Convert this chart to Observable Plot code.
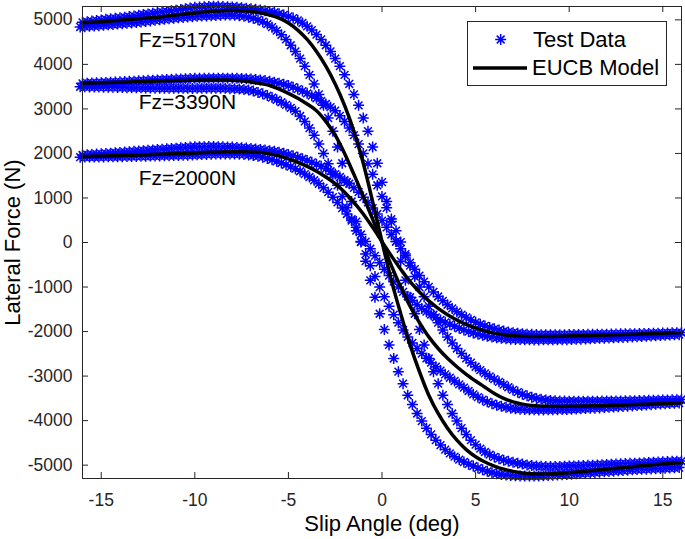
<!DOCTYPE html>
<html><head><meta charset="utf-8">
<script src="https://cdn.jsdelivr.net/npm/d3@7"></script>
<script src="https://cdn.jsdelivr.net/npm/@observablehq/plot@0.6"></script>
<style>
body{margin:0;background:#fff;}
#chart{width:685px;height:539px;}
</style></head><body><div id="chart"></div>
<script>
// ---- data ----
// slip-angle sweep positions (up sweep and down sweep)
const slipAngleUp = [-16,-15.75,-15.5,-15.25,-15,-14.75,-14.5,-14.25,-14,-13.75,-13.5,-13.25,-13,-12.75,-12.5,-12.25,-12,-11.75,-11.5,-11.25,-11,-10.75,-10.5,-10.25,-10,-9.75,-9.5,-9.25,-9,-8.75,-8.5,-8.25,-8,-7.75,-7.5,-7.25,-7,-6.75,-6.5,-6.25,-6,-5.75,-5.5,-5.25,-5,-4.75,-4.5,-4.25,-4,-3.75,-3.5,-3.25,-3,-2.75,-2.5,-2.25,-2,-1.75,-1.5,-1.25,-1,-0.75,-0.5,-0.25,0,0.25,0.5,0.75,1,1.25,1.5,1.75,2,2.25,2.5,2.75,3,3.25,3.5,3.75,4,4.25,4.5,4.75,5,5.25,5.5,5.75,6,6.25,6.5,6.75,7,7.25,7.5,7.75,8,8.25,8.5,8.75,9,9.25,9.5,9.75,10,10.25,10.5,10.75,11,11.25,11.5,11.75,12,12.25,12.5,12.75,13,13.25,13.5,13.75,14,14.25,14.5,14.75,15,15.25,15.5,15.75,16];
const slipAngleDown = [-16.125,-15.875,-15.625,-15.375,-15.125,-14.875,-14.625,-14.375,-14.125,-13.875,-13.625,-13.375,-13.125,-12.875,-12.625,-12.375,-12.125,-11.875,-11.625,-11.375,-11.125,-10.875,-10.625,-10.375,-10.125,-9.875,-9.625,-9.375,-9.125,-8.875,-8.625,-8.375,-8.125,-7.875,-7.625,-7.375,-7.125,-6.875,-6.625,-6.375,-6.125,-5.875,-5.625,-5.375,-5.125,-4.875,-4.625,-4.375,-4.125,-3.875,-3.625,-3.375,-3.125,-2.875,-2.625,-2.375,-2.125,-1.875,-1.625,-1.375,-1.125,-0.875,-0.625,-0.375,-0.125,0.125,0.375,0.625,0.875,1.125,1.375,1.625,1.875,2.125,2.375,2.625,2.875,3.125,3.375,3.625,3.875,4.125,4.375,4.625,4.875,5.125,5.375,5.625,5.875,6.125,6.375,6.625,6.875,7.125,7.375,7.625,7.875,8.125,8.375,8.625,8.875,9.125,9.375,9.625,9.875,10.125,10.375,10.625,10.875,11.125,11.375,11.625,11.875,12.125,12.375,12.625,12.875,13.125,13.375,13.625,13.875,14.125,14.375,14.625,14.875,15.125,15.375,15.625,15.875];

const test5170Up = [4945,4960,4973,4987,4999,5013,5024,5035,5047,5061,5074,5088,5104,5120,5134,5149,5163,5176,5189,5202,5218,5235,5251,5267,5281,5287,5293,5300,5305,5303,5299,5294,5289,5283,5273,5262,5248,5237,5223,5207,5186,5165,5137,5110,5078,5040,4990,4930,4855,4770,4670,4560,4430,4290,4130,3960,3765,3560,3325,3080,2795,2500,2145,1780,1355,920,470,20,-420,-850,-1230,-1600,-1955,-2300,-2605,-2900,-3170,-3430,-3640,-3840,-4010,-4170,-4310,-4440,-4540,-4630,-4705,-4765,-4815,-4855,-4888,-4915,-4937,-4960,-4977,-4995,-5010,-5020,-5027,-5032,-5032,-5032,-5028,-5025,-5020,-5017,-5013,-5010,-5005,-5000,-4995,-4990,-4985,-4980,-4975,-4970,-4965,-4960,-4955,-4950,-4945,-4940,-4935,-4930,-4925,-4920,-4915,-4912,-4908];
const test5170Down = [4840,4847,4855,4862,4870,4879,4888,4896,4905,4913,4922,4931,4940,4952,4965,4977,4990,5001,5012,5023,5035,5045,5055,5064,5072,5079,5085,5088,5090,5098,5105,5108,5110,5104,5095,5080,5060,5034,5002,4959,4905,4836,4758,4664,4560,4430,4290,4130,3960,3765,3560,3325,3080,2795,2500,2145,1780,1355,920,470,20,-420,-850,-1230,-1600,-1955,-2300,-2605,-2900,-3170,-3430,-3640,-3840,-4010,-4170,-4310,-4440,-4550,-4650,-4735,-4810,-4875,-4930,-4978,-5020,-5065,-5105,-5139,-5170,-5192,-5210,-5224,-5235,-5240,-5245,-5246,-5245,-5244,-5243,-5239,-5235,-5229,-5222,-5216,-5210,-5202,-5195,-5188,-5180,-5172,-5165,-5158,-5150,-5142,-5135,-5128,-5120,-5112,-5105,-5100,-5095,-5090,-5085,-5080,-5075,-5070,-5065,-5061,-5055];
const test3390Up = [3575,3578,3582,3585,3590,3594,3599,3603,3608,3613,3619,3624,3630,3635,3641,3646,3652,3656,3660,3665,3670,3674,3677,3682,3686,3687,3687,3689,3690,3691,3690,3690,3690,3687,3684,3679,3673,3662,3651,3637,3620,3600,3578,3553,3525,3488,3445,3400,3350,3297,3240,3177,3110,3040,2960,2845,2720,2570,2410,2210,2000,1770,1530,1285,1035,780,525,265,10,-260,-520,-765,-1000,-1220,-1430,-1620,-1800,-1965,-2120,-2255,-2380,-2495,-2600,-2698,-2790,-2867,-2940,-3007,-3070,-3130,-3190,-3250,-3310,-3362,-3407,-3444,-3475,-3501,-3522,-3537,-3549,-3556,-3561,-3562,-3563,-3565,-3567,-3566,-3566,-3565,-3563,-3562,-3560,-3559,-3558,-3557,-3555,-3554,-3553,-3551,-3548,-3545,-3543,-3540,-3537,-3535,-3533,-3529,-3525];
const test3390Down = [3498,3496,3494,3492,3490,3488,3486,3484,3482,3480,3478,3476,3475,3473,3470,3468,3466,3466,3465,3466,3465,3465,3463,3462,3460,3463,3465,3466,3465,3466,3465,3462,3455,3452,3445,3437,3425,3401,3370,3338,3300,3255,3205,3150,3090,3025,2950,2840,2720,2570,2410,2210,2000,1770,1530,1285,1035,780,525,265,10,-260,-520,-765,-1000,-1220,-1430,-1620,-1800,-1965,-2120,-2255,-2380,-2495,-2600,-2698,-2790,-2877,-2960,-3037,-3110,-3185,-3260,-3335,-3410,-3473,-3530,-3578,-3620,-3653,-3680,-3702,-3720,-3733,-3743,-3749,-3755,-3757,-3759,-3759,-3758,-3757,-3754,-3753,-3750,-3745,-3740,-3735,-3730,-3725,-3720,-3714,-3708,-3701,-3695,-3688,-3682,-3676,-3670,-3662,-3655,-3649,-3642,-3635,-3628,-3621,-3616,-3610,-3605];
const test2000Up = [1965,1972,1978,1985,1992,2000,2007,2015,2023,2031,2039,2047,2055,2063,2071,2080,2088,2096,2104,2111,2119,2127,2134,2142,2150,2152,2153,2154,2156,2152,2149,2145,2142,2135,2128,2120,2111,2101,2090,2079,2063,2049,2028,2006,1979,1950,1914,1880,1841,1800,1756,1710,1657,1600,1537,1470,1397,1320,1228,1130,1018,900,773,640,492,340,180,20,-140,-300,-452,-600,-743,-880,-998,-1110,-1213,-1310,-1397,-1480,-1553,-1620,-1683,-1740,-1793,-1836,-1874,-1909,-1939,-1966,-1990,-2009,-2024,-2038,-2049,-2058,-2063,-2068,-2071,-2072,-2072,-2072,-2071,-2070,-2068,-2066,-2066,-2064,-2063,-2061,-2061,-2059,-2058,-2056,-2055,-2052,-2050,-2048,-2047,-2045,-2043,-2041,-2039,-2036,-2034,-2031,-2029,-2026,-2023];
const test2000Down = [1917,1918,1919,1920,1921,1922,1923,1925,1926,1928,1929,1931,1933,1935,1937,1940,1942,1945,1948,1950,1953,1956,1959,1961,1964,1969,1975,1979,1983,1986,1989,1989,1988,1988,1983,1978,1966,1954,1937,1916,1889,1859,1824,1786,1746,1705,1657,1600,1537,1470,1397,1320,1228,1130,1018,900,773,640,492,340,180,20,-140,-300,-452,-600,-743,-880,-998,-1110,-1213,-1310,-1397,-1480,-1553,-1620,-1683,-1740,-1793,-1840,-1882,-1925,-1964,-2000,-2032,-2060,-2084,-2105,-2124,-2140,-2153,-2163,-2171,-2176,-2180,-2183,-2186,-2187,-2187,-2186,-2186,-2184,-2184,-2183,-2183,-2179,-2175,-2171,-2167,-2162,-2157,-2153,-2149,-2145,-2140,-2136,-2131,-2126,-2121,-2116,-2111,-2106,-2100,-2094,-2089,-2084,-2078,-2074,-2070];

const modelAngle = [-16,-15.5,-15,-14.5,-14,-13.5,-13,-12.5,-12,-11.5,-11,-10.5,-10,-9.5,-9,-8.5,-8,-7.5,-7,-6.5,-6,-5.5,-5,-4.5,-4,-3.5,-3,-2.5,-2,-1.5,-1,-0.5,0,0.5,1,1.5,2,2.5,3,3.5,4,4.5,5,5.5,6,6.5,7,7.5,8,8.5,9,9.5,10,10.5,11,11.5,12,12.5,13,13.5,14,14.5,15,15.5,16];
const model5170 = [4935,4948,4960,4975,4990,5008,5025,5042,5060,5085,5110,5132,5155,5175,5192,5205,5210,5205,5190,5160,5110,5040,4930,4770,4560,4290,3960,3560,3080,2500,1780,920,20,-850,-1600,-2300,-2900,-3430,-3840,-4170,-4440,-4650,-4810,-4930,-5020,-5090,-5140,-5175,-5195,-5200,-5195,-5185,-5170,-5150,-5130,-5110,-5090,-5070,-5050,-5030,-5010,-4990,-4975,-4960,-4945];
const model3390 = [3580,3584,3588,3594,3600,3606,3612,3618,3625,3630,3636,3640,3645,3648,3650,3650,3645,3630,3605,3570,3525,3445,3350,3240,3110,2960,2720,2410,2000,1530,1035,525,10,-520,-1000,-1430,-1800,-2120,-2380,-2600,-2790,-2960,-3110,-3250,-3390,-3500,-3580,-3630,-3660,-3675,-3680,-3682,-3680,-3675,-3670,-3665,-3660,-3655,-3648,-3640,-3632,-3625,-3615,-3608,-3600];
const model2000 = [1930,1935,1940,1946,1952,1958,1965,1972,1980,1988,1996,2004,2012,2020,2028,2035,2040,2040,2035,2020,1990,1945,1880,1800,1710,1600,1470,1320,1130,900,640,340,20,-300,-600,-880,-1110,-1310,-1480,-1620,-1740,-1840,-1920,-1985,-2035,-2070,-2095,-2108,-2112,-2112,-2110,-2105,-2100,-2095,-2090,-2085,-2078,-2072,-2066,-2060,-2052,-2045,-2037,-2028,-2020];

const xTicks = [-15, -10, -5, 0, 5, 10, 15];
const yTicks = [-5000, -4000, -3000, -2000, -1000, 0, 1000, 2000, 3000, 4000, 5000];
const loadLabels = ["Fz=5170N", "Fz=3390N", "Fz=2000N"];
const loadLabelAngle = [-13.0, -13.0, -13.0];
const loadLabelForce = [4543, 3140, 1443];
const legendLabels = ["Test Data", "EUCB Model"];
const xTitle = "Slip Angle (deg)";
const yTitle = "Lateral Force (N)";

// ---- tables ----
const testRows = [];
[[test5170Up, slipAngleUp], [test5170Down, slipAngleDown],
 [test3390Up, slipAngleUp], [test3390Down, slipAngleDown],
 [test2000Up, slipAngleUp], [test2000Down, slipAngleDown]].forEach(([arr, ang]) =>
  arr.forEach((f, i) => testRows.push({a: ang[i], f})));
const modelRows = [];
[[5170, model5170], [3390, model3390], [2000, model2000]].forEach(([fz, arr]) =>
  arr.forEach((f, i) => modelRows.push({a: modelAngle[i], f, fz})));
const labelRows = loadLabels.map((t, i) => ({t, a: loadLabelAngle[i], f: loadLabelForce[i]}));

// MATLAB-like asterisk marker
const asterisk = {
  draw(ctx, size) {
    const r = Math.sqrt(size / Math.PI), d = r * Math.SQRT1_2;
    ctx.moveTo(-r, 0); ctx.lineTo(r, 0);
    ctx.moveTo(0, -r); ctx.lineTo(0, r);
    ctx.moveTo(-d, -d); ctx.lineTo(d, d);
    ctx.moveTo(-d, d); ctx.lineTo(d, -d);
  }
};

const W = 685, H = 539, mL = 82, mR = 4, mT = 6, mB = 61;
const pw = W - mL - mR, ph = H - mT - mB, tk = 6;
const FONT = "'Liberation Sans', Arial, Helvetica, sans-serif";
const axisColor = "#262626";
const markerR = 5.5;

const chart = Plot.plot({
  width: W, height: H,
  marginLeft: mL, marginRight: mR, marginTop: mT, marginBottom: mB,
  style: {fontFamily: FONT, fontSize: "17.5px", color: "#000", background: "#fff"},
  x: {domain: [-16, 16]},
  y: {domain: [-5300, 5300]},
  marks: [
    Plot.dot(testRows, {x: "a", y: "f", symbol: asterisk, r: markerR, stroke: "#0000ff", fill: "none", strokeWidth: 1.5}),
    Plot.line(modelRows, {x: "a", y: "f", z: "fz", stroke: "#000", strokeWidth: 3.5, curve: "catmull-rom"}),
    Plot.text(labelRows, {x: "a", y: "f", text: "t", textAnchor: "start", fontSize: 21, fill: "#000"}),
    Plot.frame({stroke: axisColor, strokeWidth: 1}),
    Plot.tickX(xTicks, {x: d => d, insetTop: ph - tk, stroke: axisColor}),
    Plot.tickX(xTicks, {x: d => d, insetBottom: ph - tk, stroke: axisColor}),
    Plot.tickY(yTicks, {y: d => d, insetRight: pw - tk, stroke: axisColor}),
    Plot.tickY(yTicks, {y: d => d, insetLeft: pw - tk, stroke: axisColor}),
    Plot.axisX({ticks: xTicks, tickSize: 0, tickPadding: 15, tickFormat: d => String(d), label: null, fontSize: 17.5, fill: axisColor}),
    Plot.axisY({ticks: yTicks, tickSize: 0, tickPadding: 10, tickFormat: d => String(d), label: null, fontSize: 17.5, fill: axisColor}),
    Plot.text([xTitle], {text: d => d, frameAnchor: "bottom", lineAnchor: "middle", textAnchor: "middle", dy: 45, fontSize: 22, fill: "#000"}),
    Plot.text([yTitle], {text: d => d, frameAnchor: "left", lineAnchor: "middle", textAnchor: "middle", dx: -70, rotate: -90, fontSize: 22, fill: "#000"})
  ]
});

// legend box (inside the axes, top-right)
const svg = d3.select(chart);
const lg = svg.append("g").attr("font-family", FONT).attr("font-size", 22).attr("text-anchor", "start");
lg.append("rect").attr("x", 467.5).attr("y", 21.5).attr("width", 199).attr("height", 64)
  .attr("fill", "#fff").attr("stroke", axisColor).attr("stroke-width", 1);
const ap = d3.path(); asterisk.draw(ap, Math.PI * markerR * markerR);
lg.append("path").attr("d", ap.toString()).attr("transform", "translate(500.7,39.5)")
  .attr("stroke", "#0000ff").attr("fill", "none").attr("stroke-width", 1.5);
lg.append("text").attr("x", 533).attr("y", 46.7).attr("fill", "#000").text(legendLabels[0]);
lg.append("line").attr("x1", 473).attr("x2", 527).attr("y1", 68).attr("y2", 68)
  .attr("stroke", "#000").attr("stroke-width", 3.5);
lg.append("text").attr("x", 532).attr("y", 75).attr("fill", "#000").text(legendLabels[1]);

document.getElementById("chart").appendChild(chart);
</script>
</body></html>
